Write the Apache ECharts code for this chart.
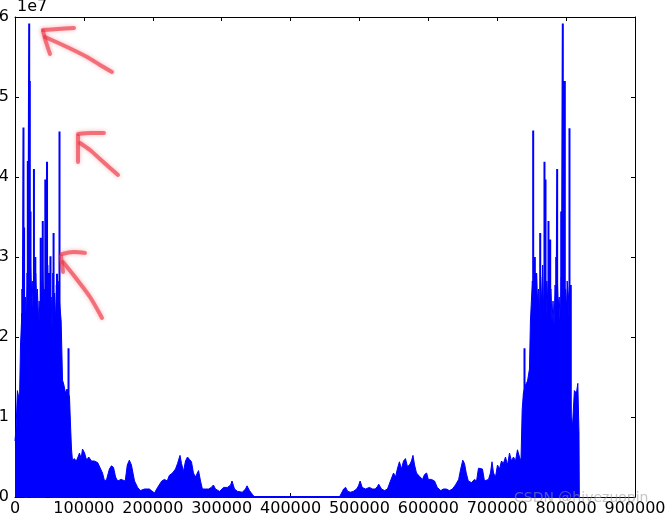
<!DOCTYPE html>
<html>
<head>
<meta charset="utf-8">
<script src="https://cdn.jsdelivr.net/npm/echarts@6/dist/echarts.min.js"></script>
<style>
html,body{margin:0;padding:0;background:#fff;}
#chart{width:666px;height:517px;}
</style>
</head>
<body>
<div id="chart"></div>
<script>
// Magnitudes are in units of 1e7 (shown as the "1e7" offset label).
const xTicks = [0, 100000, 200000, 300000, 400000, 500000, 600000, 700000, 800000, 900000];
const yTicks = [0, 1, 2, 3, 4, 5, 6];

// Envelope (left half of the spectrum)
const leftEnvX = [0, 1500, 2500, 3500, 5000, 6500, 8000, 10000, 11500, 12500, 14000, 15000, 16500, 17500, 19000, 20000, 21500, 22500, 24000, 25000, 26500, 27500, 29000, 30000, 31500, 32500, 34000, 35000, 36500, 37500, 39000, 40000, 41500, 42500, 44000, 45000, 46500, 47500, 49000, 50000, 51500, 52500, 54000, 55000, 56500, 57500, 59000, 60000, 61500, 62500, 64000, 65000, 67000, 69000, 71000, 73300, 75500, 79100, 80600, 82000, 83500, 86000, 89000, 91500, 93600, 96000, 98000, 101000, 104000, 107000, 111000, 115000, 117000, 120000, 122600, 127000, 130000, 133000, 137000, 140000, 143000, 146000, 149000, 154000, 160000, 163000, 166000, 169000, 173500, 178000, 182000, 188000, 195000, 198000, 202500, 207000, 213000, 217000, 221000, 224000, 228600, 233000, 236000, 239500, 241700, 244600, 247500, 250400, 253300, 256200, 259000, 262000, 266400, 269300, 272000, 276500, 281000, 285000, 288000, 291000, 297000, 302700, 308500, 313000, 315000, 318600, 323000, 330000, 334600, 336800, 340400, 344800, 347600];
const leftEnvY = [0.70, 0.86, 0.84, 1.33, 1.33, 1.20, 1.90, 2.30, 2.05, 2.70, 2.40, 2.50, 2.20, 2.80, 2.45, 2.60, 2.30, 2.90, 2.55, 2.70, 2.25, 2.50, 2.10, 2.80, 2.45, 2.60, 2.20, 2.45, 2.15, 2.70, 2.40, 2.85, 2.50, 2.60, 2.30, 2.75, 2.45, 2.90, 2.35, 2.60, 2.25, 2.50, 2.05, 2.80, 2.40, 2.55, 2.20, 2.65, 2.35, 2.70, 2.50, 2.40, 2.20, 1.46, 1.40, 1.30, 1.35, 1.25, 0.90, 0.60, 0.45, 0.48, 0.45, 0.50, 0.55, 0.48, 0.60, 0.55, 0.46, 0.50, 0.45, 0.45, 0.47, 0.43, 0.44, 0.30, 0.20, 0.22, 0.35, 0.39, 0.37, 0.25, 0.20, 0.22, 0.20, 0.40, 0.46, 0.40, 0.20, 0.12, 0.08, 0.10, 0.10, 0.08, 0.05, 0.12, 0.20, 0.22, 0.20, 0.27, 0.30, 0.35, 0.42, 0.52, 0.42, 0.32, 0.45, 0.50, 0.47, 0.44, 0.30, 0.25, 0.33, 0.20, 0.10, 0.10, 0.10, 0.12, 0.15, 0.10, 0.07, 0.12, 0.12, 0.15, 0.20, 0.10, 0.07, 0.06, 0.10, 0.14, 0.08, 0.03, 0.00];

// Envelope (right half of the spectrum)
const rightEnvX = [471000, 474000, 477000, 480000, 483000, 487000, 491000, 496000, 498600, 501000, 504000, 508800, 514600, 519000, 523000, 526000, 528000, 532000, 536400, 540700, 545000, 549500, 552400, 555000, 558000, 561000, 564000, 566800, 569700, 572700, 575500, 577700, 580000, 582800, 587000, 591500, 594500, 597500, 600000, 604500, 609000, 613000, 618000, 622000, 626000, 630700, 635000, 639400, 644000, 647000, 650000, 652500, 655000, 658000, 662600, 667000, 670000, 672800, 675700, 678600, 681500, 684400, 687300, 690200, 692400, 694600, 697500, 700400, 703300, 706200, 709000, 712000, 715000, 717800, 720700, 723600, 726500, 729400, 732300, 734500, 736200, 738000, 741000, 744000, 746800, 748200, 751000, 752500, 754000, 755500, 757000, 758500, 760000, 761500, 763000, 764500, 766000, 767500, 769000, 770500, 772000, 773500, 775000, 776500, 778000, 779500, 781000, 782500, 784000, 785500, 787000, 788500, 790000, 791500, 793000, 794500, 796000, 797500, 799000, 800500, 801500, 803500, 805000, 807000, 809300, 812000, 815000, 817000, 818700, 819200];
const rightEnvY = [0.00, 0.05, 0.10, 0.12, 0.07, 0.06, 0.07, 0.10, 0.14, 0.20, 0.12, 0.10, 0.12, 0.10, 0.10, 0.13, 0.16, 0.10, 0.08, 0.10, 0.20, 0.30, 0.25, 0.35, 0.44, 0.35, 0.45, 0.48, 0.38, 0.40, 0.45, 0.52, 0.40, 0.30, 0.26, 0.22, 0.28, 0.30, 0.22, 0.22, 0.20, 0.12, 0.08, 0.10, 0.10, 0.08, 0.10, 0.15, 0.22, 0.35, 0.46, 0.42, 0.30, 0.20, 0.18, 0.22, 0.20, 0.36, 0.35, 0.35, 0.20, 0.18, 0.22, 0.30, 0.44, 0.30, 0.25, 0.40, 0.35, 0.45, 0.42, 0.50, 0.40, 0.55, 0.45, 0.50, 0.45, 0.59, 0.50, 0.45, 1.09, 1.30, 1.40, 1.45, 1.60, 2.20, 2.70, 2.35, 2.55, 2.20, 2.80, 2.45, 2.60, 2.25, 2.75, 2.40, 2.90, 2.30, 2.50, 2.10, 2.70, 2.40, 2.85, 2.55, 2.60, 2.20, 2.45, 2.15, 2.65, 2.35, 2.80, 2.40, 2.50, 2.10, 2.75, 2.45, 2.90, 2.30, 2.60, 2.35, 2.70, 2.50, 1.90, 1.00, 0.90, 1.33, 1.30, 1.42, 0.80, 0.00];

// Isolated tall peaks
const spikeX = [10500, 12300, 13200, 18600, 20600, 21500, 22500, 27500, 29500, 37300, 40300, 44000, 46500, 49000, 51500, 56000, 61000, 64600, 77700,
                739600, 752200, 754600, 756600, 762400, 768600, 770100, 774400, 776900, 785600, 787000, 792900, 795200, 798100, 804900, 806800];
const spikeY = [2.60, 4.62, 3.37, 4.20, 5.92, 5.20, 3.57, 4.10, 3.00, 3.24, 3.45, 3.97, 4.19, 2.80, 3.01, 3.30, 2.79, 4.57, 1.86,
                1.86, 4.58, 3.00, 2.80, 3.30, 4.19, 3.97, 3.45, 3.22, 3.00, 4.10, 3.57, 5.92, 5.20, 4.61, 2.65];

const envelope = leftEnvX.map((x, i) => [x, leftEnvY[i]])
  .concat([[350000, 0], [471000, 0]])
  .concat(rightEnvX.map((x, i) => [x, rightEnvY[i]]));
// Each peak is drawn as a vertical stroke rising from the baseline.
const spikes = [];
spikeX.forEach((x, i) => { spikes.push([x, 0], [x, spikeY[i]], [x, 0]); });

const FONT = 'DejaVu Sans';
const BLUE = '#0000ff';

function xAxisCfg(pos, showLabel) {
  return {
    type: 'value', position: pos, min: xTicks[0], max: xTicks[xTicks.length - 1], interval: 100000,
    axisLine: { show: true, onZero: false, lineStyle: { color: '#000', width: 1 } },
    axisTick: { show: true, inside: true, length: 4, lineStyle: { color: '#000' } },
    axisLabel: { show: showLabel, color: '#000', fontFamily: FONT, fontSize: 16, margin: 4, formatter: v => String(v), hideOverlap: false },
    splitLine: { show: false }
  };
}
function yAxisCfg(pos, showLabel) {
  return {
    type: 'value', position: pos, min: yTicks[0], max: yTicks[yTicks.length - 1], interval: 1,
    axisLine: { show: true, onZero: false, lineStyle: { color: '#000', width: 1 } },
    axisTick: { show: true, inside: true, length: 4, lineStyle: { color: '#000' } },
    axisLabel: { show: showLabel, color: '#000', fontFamily: FONT, fontSize: 16, margin: 6, formatter: v => String(v) },
    splitLine: { show: false }
  };
}

const yMain = yAxisCfg('left', true);
yMain.name = '1e7';
yMain.nameLocation = 'end';
yMain.nameGap = 2;
yMain.nameTextStyle = { color: '#000', fontFamily: FONT, fontSize: 16, align: 'left', verticalAlign: 'bottom', padding: [0, 0, 0, 2] };

const chart = echarts.init(document.getElementById('chart'), null, { renderer: 'canvas' });

const RED = 'rgba(235,50,65,0.62)';
function stroke(points) {
  return {
    type: 'polyline', z: 100,
    shape: { points: points, smooth: 0.3 },
    style: { stroke: RED, lineWidth: 4, fill: null, lineCap: 'round', lineJoin: 'round', shadowBlur: 4, shadowColor: 'rgba(235,50,65,0.6)' }
  };
}

chart.setOption({
  animation: false,
  backgroundColor: '#fff',
  grid: { left: 15, right: 31, top: 17, bottom: 20, containLabel: false, outerBoundsMode: 'none' },
  xAxis: [xAxisCfg('bottom', true), xAxisCfg('top', false)],
  yAxis: [yMain, yAxisCfg('right', false)],
  series: [
    {
      type: 'line', data: envelope, showSymbol: false, symbol: 'none',
      lineStyle: { color: BLUE, width: 1 },
      areaStyle: { color: BLUE, opacity: 1 },
      z: 2
    },
    {
      type: 'line', data: spikes, showSymbol: false, symbol: 'none',
      lineStyle: { color: BLUE, width: 2 },
      z: 3
    }
  ],
  graphic: [
    stroke([[43, 30], [58, 29], [74, 28]]),
    stroke([[43, 31], [46, 42], [50, 54]]),
    stroke([[45, 37], [67, 47], [87, 57], [100, 65], [112, 72]]),
    stroke([[78, 134], [91, 133], [104, 133]]),
    stroke([[78, 136], [78, 149], [78, 162]]),
    stroke([[80, 143], [90, 150], [100, 159], [110, 168], [118, 175]]),
    stroke([[62, 254], [73, 252], [85, 253]]),
    stroke([[61, 256], [62, 264], [63, 272]]),
    stroke([[63, 262], [75, 277], [90, 297], [102, 318]]),
    {
      type: 'text', z: 200, left: 514, top: 491,
      style: { text: 'CSDN @hiyezuopin', fill: 'rgba(150,150,150,0.55)', font: '14px "DejaVu Sans"' }
    }
  ]
});
</script>
</body>
</html>
